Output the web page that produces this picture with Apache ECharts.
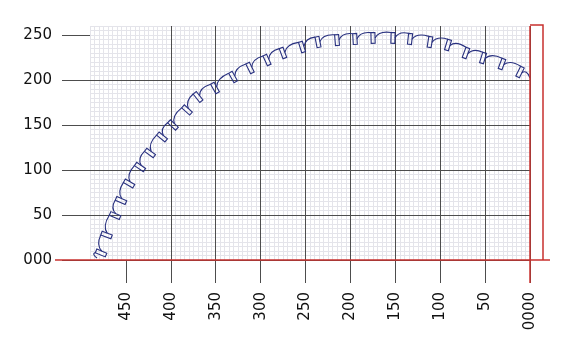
<!DOCTYPE html>
<html>
<head>
<meta charset="utf-8">
<script src="https://cdn.jsdelivr.net/npm/echarts@6/dist/echarts.min.js"></script>
<style>
  html, body { margin: 0; padding: 0; background: #fff; }
  #chart { width: 574px; height: 358px; }
</style>
</head>
<body>
<div id="chart"></div>
<script>
// ---- data ----
const xTickValues = [0, 50, 100, 150, 200, 250, 300, 350, 400, 450];
const xTickLabels = ['0000', '50', '100', '150', '200', '250', '300', '350', '400', '450'];
const yTickValues = [0, 50, 100, 150, 200, 250];
const yTickLabels = ['000', '50', '100', '150', '200', '250'];

// curve start / end points
const startPoint = [482.2, 2.2];
const endPoint = [0, 202.2];

// centres of the notches ("teeth") along the curve
const teethX = [477.7, 471.6, 462.1, 455.5, 446.5, 434.3, 423.2, 409.8, 397.6, 382.0,
                369.7, 350.8, 330.7, 311.8, 292.9, 275.1, 253.9, 236.1, 214.9, 194.9,
                174.8, 152.6, 133.6, 111.4, 91.3, 71.3, 52.3, 31.2, 11.1];
const teethY = [7.8, 27.8, 49.4, 66.1, 85.0, 103.3, 118.9, 136.7, 150.0, 166.7,
                181.1, 191.1, 203.3, 213.3, 222.2, 230.0, 236.7, 242.2, 244.4, 245.6,
                246.7, 246.7, 245.6, 242.2, 238.9, 230.0, 224.4, 217.8, 208.9];

// ---- build the path list (start, teeth, end) ----
const pathX = [startPoint[0]].concat(teethX, [endPoint[0]]);
const pathY = [startPoint[1]].concat(teethY, [endPoint[1]]);
const pathKind = pathX.map((_, i) => (i === 0 || i === pathX.length - 1) ? 0 : 1);
const pathData = pathX.map((x, i) => [x, pathY[i]]);

const LINE = '#28307f';
const RED = '#c8302e';
const MAJOR = '#4d4d4d';
const MINOR = '#e4e4ea';
const FONT = 'DejaVu Sans';

function labelFor(values, labels) {
  return function (v) {
    const k = values.indexOf(v);
    return k >= 0 ? labels[k] : '';
  };
}

function renderItem(params, api) {
  const n = pathX.length;
  const P = k => api.coord([pathX[k], pathY[k]]);
  function frame(k) {
    const c = P(k);
    const a = P(Math.max(0, k - 1));
    const b = P(Math.min(n - 1, k + 1));
    let tx = b[0] - a[0], ty = b[1] - a[1];
    const L = Math.hypot(tx, ty) || 1;
    tx /= L; ty /= L;
    return { c: c, tx: tx, ty: ty, nx: -ty, ny: tx };
  }
  const HL = 5.4, HW = 2.0;
  const i = params.dataIndex;
  const f = frame(i);
  const pt = (fr, u, v) => [fr.c[0] + u * fr.tx + v * fr.nx, fr.c[1] + u * fr.ty + v * fr.ny];
  const children = [];
  let S;
  if (pathKind[i] === 1) {
    const corners = [pt(f, -HW, -HL), pt(f, -HW, HL), pt(f, HW, HL), pt(f, HW, -HL)];
    children.push({
      type: 'polygon',
      shape: { points: corners },
      style: { fill: 'none', stroke: LINE, lineWidth: 1.1 }
    });
    S = pt(f, HW, 0);
  } else {
    S = f.c;
  }
  if (i < n - 1) {
    const g = frame(i + 1);
    const E = pathKind[i + 1] === 1 ? pt(g, -HW, -HL) : g.c;
    const mnx = (f.nx + g.nx) / 2, mny = (f.ny + g.ny) / 2;
    const cp = [S[0] + 0.25 * (E[0] - S[0]) - (HL + 0.5) * mnx,
                S[1] + 0.25 * (E[1] - S[1]) - (HL + 0.5) * mny];
    children.push({
      type: 'bezierCurve',
      shape: { x1: S[0], y1: S[1], x2: E[0], y2: E[1], cpx1: cp[0], cpy1: cp[1] },
      style: { fill: 'none', stroke: LINE, lineWidth: 1.1 }
    });
  }
  return { type: 'group', children: children };
}

const chart = echarts.init(document.getElementById('chart'), null, { renderer: 'canvas' });

const option = {
  animation: false,
  backgroundColor: '#ffffff',
  grid: { left: 90, right: 44, top: 26, bottom: 98, containLabel: false },
  xAxis: [
    {
      type: 'value', inverse: true, min: 0, max: 490, interval: 50, position: 'bottom', z: 3,
      axisLine: { show: false, onZero: false },
      axisTick: { show: true, length: 23, customValues: xTickValues, lineStyle: { color: MAJOR, width: 1 } },
      axisLabel: {
        show: true, customValues: xTickValues, formatter: labelFor(xTickValues, xTickLabels),
        rotate: 90, margin: 32, fontSize: 15, fontFamily: FONT, color: '#111'
      },
      splitLine: { show: true, showMaxLine: false, lineStyle: { color: MAJOR, width: 1 } }
    },
    {
      type: 'value', inverse: true, min: 0, max: 490, interval: 5, position: 'bottom', z: 1,
      axisLine: { show: false, onZero: false }, axisTick: { show: false }, axisLabel: { show: false },
      splitLine: { show: true, lineStyle: { color: MINOR, width: 1 } }
    }
  ],
  yAxis: [
    {
      type: 'value', min: 0, max: 260, interval: 50, z: 3, position: 'left',
      axisLine: { show: false, onZero: false },
      axisTick: { show: true, length: 28, customValues: yTickValues, lineStyle: { color: MAJOR, width: 1 } },
      axisLabel: {
        show: true, customValues: yTickValues, formatter: labelFor(yTickValues, yTickLabels),
        margin: 38, fontSize: 15, fontFamily: FONT, color: '#111'
      },
      splitLine: { show: true, showMaxLine: false, lineStyle: { color: MAJOR, width: 1 } }
    },
    {
      type: 'value', min: 0, max: 260, interval: 5, z: 1, position: 'left',
      axisLine: { show: false, onZero: false }, axisTick: { show: false }, axisLabel: { show: false },
      splitLine: { show: true, lineStyle: { color: MINOR, width: 1 } }
    }
  ],
  series: [
    {
      type: 'custom',
      xAxisIndex: 0, yAxisIndex: 0,
      clip: false, z: 5,
      renderItem: renderItem,
      data: pathData,
      silent: true
    }
  ]
};
chart.setOption(option);

// red frame lines anchored to axis positions
const toPx = (x, y) => chart.convertToPixel({ xAxisIndex: 0, yAxisIndex: 0 }, [x, y]);
const o = toPx(0, 0);
const t = toPx(0, 260);
const gLeft = toPx(490, 0);
chart.setOption({
  graphic: [
    { type: 'line', z: 20, shape: { x1: gLeft[0] - 35, y1: o[1], x2: o[0] + 20, y2: o[1] },
      style: { stroke: RED, lineWidth: 1.5 } },
    { type: 'line', z: 20, shape: { x1: o[0], y1: t[1], x2: o[0], y2: o[1] + 23 },
      style: { stroke: RED, lineWidth: 1.5 } },
    { type: 'polyline', z: 20, shape: { points: [[o[0], t[1] - 1], [o[0] + 13, t[1] - 1], [o[0] + 13, o[1]]] },
      style: { stroke: RED, lineWidth: 1.5, fill: 'none' } }
  ]
});
</script>
</body>
</html>
